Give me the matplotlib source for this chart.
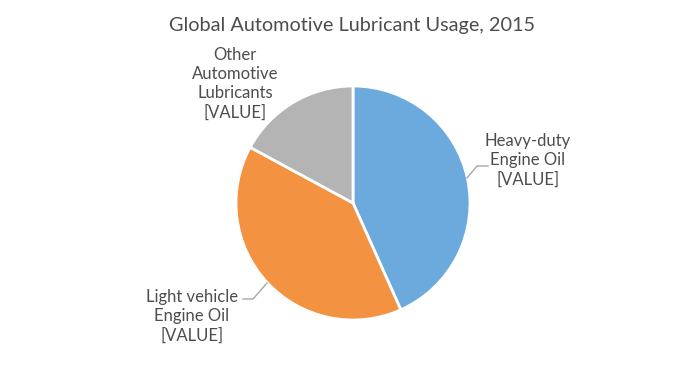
import matplotlib
matplotlib.use('Agg')
import matplotlib.pyplot as plt

# Pie data (shares, clockwise from 12 o'clock)
categories = ['Heavy-duty\nEngine Oil', 'Light vehicle\nEngine Oil', 'Other\nAutomotive\nLubricants']
shares = [43.3, 39.6, 17.1]
colors = ['#6CA9DD', '#F39241', '#B4B4B4']
title = 'Global Automotive Lubricant Usage, 2015'

plt.rcParams['font.family'] = ['Lato', 'DejaVu Sans']
text_color = '#4D4D4D'

W, H = 691, 366
fig = plt.figure(figsize=(W / 100, H / 100), dpi=100)
fig.patch.set_facecolor('white')

# pie centre at (353, 203) px, radius 117 px
cx, cy, r = 353, 203, 117
ax = fig.add_axes([(cx - r) / W, (H - cy - r) / H, 2 * r / W, 2 * r / H])
ax.pie(shares, colors=colors, startangle=90, counterclock=False,
       radius=1.0, wedgeprops=dict(edgecolor='white', linewidth=2))
ax.set_xlim(-1, 1)
ax.set_ylim(-1, 1)
ax.set_aspect('equal')
ax.axis('off')


def px(x, y):
    return x / W, 1 - y / H


fig.text(*px(352, 25), title, ha='center', va='center', fontsize=14.3, color=text_color)

label_pos = [(528, 160), (192, 316), (235, 84)]
for name, (x, y) in zip(categories, label_pos):
    fig.text(*px(x, y), name + '\n[VALUE]', ha='center', va='center',
             fontsize=12, color=text_color, linespacing=1.25)

# leader lines
leaders = [[(467, 178), (477, 166), (488, 166)],
           [(267, 283), (253, 299), (243, 299)]]
for pts in leaders:
    xs = [p[0] / W for p in pts]
    ys = [1 - p[1] / H for p in pts]
    fig.add_artist(plt.Line2D(xs, ys, color='#A6A6A6', linewidth=1.0))

fig.savefig('out.png', dpi=100, facecolor='white')
